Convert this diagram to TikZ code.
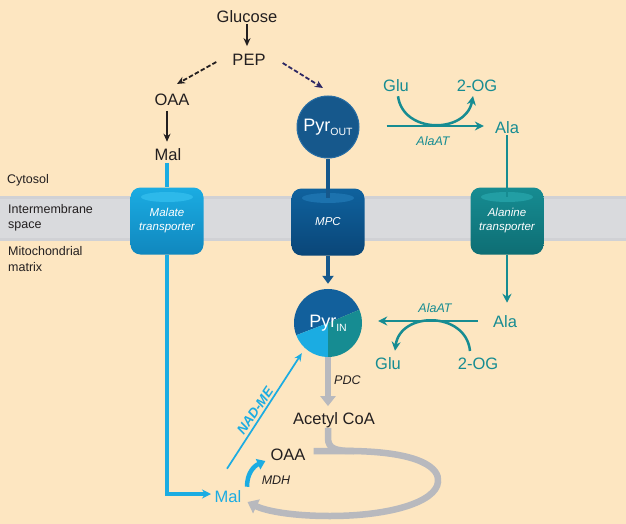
\documentclass[tikz,border=0pt]{standalone}
\usepackage{fontspec}
\setmainfont{Liberation Sans}
\usetikzlibrary{arrows.meta,calc}
\definecolor{bg}{RGB}{253,230,193}
\definecolor{memb}{RGB}{217,218,221}
\definecolor{membd}{RGB}{208,209,213}
\definecolor{cyanc}{RGB}{27,172,226}
\definecolor{cyand}{RGB}{16,135,190}
\definecolor{cyanl}{RGB}{45,185,234}
\definecolor{tealc}{RGB}{22,140,146}
\definecolor{teald}{RGB}{14,110,116}
\definecolor{teall}{RGB}{34,158,164}
\definecolor{darkb}{RGB}{22,88,140}
\definecolor{darkbl}{RGB}{40,110,165}
\definecolor{mpcb}{RGB}{15,98,158}
\definecolor{mpcd}{RGB}{10,70,120}
\definecolor{mpcl}{RGB}{28,114,174}
\definecolor{pieb}{RGB}{18,96,156}
\definecolor{grayc}{RGB}{184,185,190}
\definecolor{navy}{RGB}{45,40,100}
\definecolor{txt}{RGB}{35,31,32}
\begin{document}
\begin{tikzpicture}[x=1pt,y=-1pt,
  lbl/.style={font=\fontsize{16.5}{18}\selectfont, inner sep=1pt},
  enz/.style={font=\itshape\fontsize{12.5}{14}\selectfont, inner sep=1pt},
  comp/.style={font=\fontsize{12.5}{15.5}\selectfont, align=left, anchor=west, inner sep=0pt, text=txt},
  transp/.style={minimum width=73pt, minimum height=67pt, rounded corners=10pt, text=white,
     font=\itshape\fontsize{11.5}{14}\selectfont, align=center, inner sep=0pt},
  blk/.style={draw=txt, line width=1.6pt, -{Stealth[length=8pt,width=7pt]}},
  dsh/.style={line width=1.8pt, dash pattern=on 4.5pt off 2.2pt, -{Stealth[length=8pt,width=7pt]}},
  tarr/.style={draw=tealc, line width=2.5pt, -{Stealth[length=9pt,width=9pt]}},
  carr/.style={draw=cyanc, line width=3.2pt, -{Stealth[length=9pt,width=9pt]}},
  garr/.style={draw=grayc, line width=6.5pt, -{Triangle[length=10pt,width=15pt]}}
]
\useasboundingbox (0,0) rectangle (626,524);
\fill[bg] (0,0) rectangle (626,524);
% membrane
\fill[memb] (0,196) rectangle (626,241);
\fill[membd] (0,196) rectangle (626,199);
\fill[membd] (0,238) rectangle (626,241);

% compartment labels
\node[comp] (cyto) at (7,180) {Cytosol};
\node[comp] (ims) at (8,218) {Intermembrane\\space};
\node[comp] (mat) at (8,259) {Mitochondrial\\matrix};

% cytosol metabolites
\node[lbl,text=txt] (glc) at (247,17) {Glucose};
\node[lbl,text=txt] (pep) at (249,60) {PEP};
\node[lbl,text=txt] (oaa1) at (172,100) {OAA};
\node[lbl,text=txt] (mal1) at (168,155) {Mal};

\draw[blk, shorten >=7pt] (glc.south) -- (glc.south |- pep.north);
\coordinate (oaab) at (167,107);
\draw[blk, shorten <=4pt, shorten >=6pt] (oaab) -- (oaab |- mal1.north);
\draw[dsh, draw=txt] ($(pep.west)+(-15,2)$) -- ($(oaa1.north)+(5,-9)$);
\draw[dsh, draw=navy] ($(pep.east)+(16,3)$) -- (323,88);

% Pyr out
\node[circle, fill=darkb, draw=darkbl, line width=1pt, minimum size=62pt, inner sep=0pt, text=white,
      font=\fontsize{18}{18}\selectfont] (pyrout) at (328,127)
      {Pyr\raisebox{-0.45ex}{\fontsize{10.5}{10}\selectfont OUT}};

% Glu / 2-OG / Ala upper
\node[lbl,text=tealc] (glu1) at (396,86) {Glu};
\node[lbl,text=tealc] (og1) at (477,86) {2-OG};
\node[lbl,text=tealc] (ala1) at (507,128) {Ala};
\node[enz,text=tealc] (alaat1) at (433,141) {AlaAT};
\draw[tarr] ($(pyrout.east)+(27,-1)$) -- ($(ala1.west)+(-10,-2)$);
\draw[tarr] ($(glu1.south)+(2,3)$) .. controls (403,134) and (466,134) .. ($(og1.south)+(-4,3)$);

% transporters
\node[transp, top color=cyanc, middle color=cyanc, bottom color=cyand] (malt) at (167,221) {Malate\\transporter};
\node[transp, top color=mpcb, middle color=mpcb, bottom color=mpcd] (mpc) at (328,222) {MPC};
\node[transp, top color=tealc, middle color=tealc, bottom color=teald] (alat) at (507,221) {Alanine\\transporter};
\fill[cyanl] (167,197) ellipse (26pt and 5pt);
\fill[mpcl] (328,198) ellipse (26pt and 5pt);
\fill[teall] (507,197) ellipse (26pt and 5pt);

% lines into transporters
\coordinate (malb) at (167,163);
\draw[cyanc, line width=3.2pt] (malb) -- (malt.north);
\draw[darkb, line width=4.5pt] (pyrout) -- ($(mpc.north)+(0,10)$);
\draw[tealc, line width=2.8pt] (ala1.south) -- ($(alat.north)+(0,10)$);

% matrix
\node[lbl,text=txt] (acoa) at (334,420) {Acetyl CoA};
\node[lbl,text=txt] (oaa2) at (288,455) {OAA};
\node[lbl,text=cyanc] (mal2) at (228,497) {Mal};
\node[lbl,text=tealc] (ala2) at (505,322) {Ala};
\node[lbl,text=tealc] (glu2) at (388,364) {Glu};
\node[lbl,text=tealc] (og2) at (478,364) {2-OG};
\node[enz,text=tealc] (alaat2) at (435,308) {AlaAT};
\node[enz,text=txt,anchor=west] (pdc) at (333,380) {PDC};
\node[enz,text=txt] (mdh) at (276,480) {MDH};

% Pyr in (pie)
\coordinate (pyrc) at (328,323);
\begin{scope}[shift={(pyrc)}, y=1pt]
  \fill[pieb] (0,0) -- (23:34) arc[start angle=23, end angle=201, radius=34] -- cycle;
  \fill[cyanc] (0,0) -- (201:34) arc[start angle=201, end angle=270, radius=34] -- cycle;
  \fill[tealc] (0,0) -- (270:34) arc[start angle=270, end angle=383, radius=34] -- cycle;
\end{scope}
\node[circle, minimum size=68pt, inner sep=0pt, text=white, font=\fontsize{18}{18}\selectfont]
   (pyrin) at (pyrc) {Pyr\raisebox{-0.45ex}{\fontsize{10.5}{10}\selectfont IN}};

\draw[darkb, line width=4pt, -{Triangle[length=8pt,width=11pt]}, shorten >=5pt] (mpc.south) -- (pyrin);
\draw[tealc, line width=2.8pt, -{Stealth[length=9pt,width=9pt]}, shorten >=12pt] (alat.south) -- (alat.south |- ala2.north);

% lower AlaAT
\draw[tarr] ($(ala2.west)+(-14,-1)$) -- ($(pyrin.east)+(16,-2)$);
\draw[tarr] ($(og2.north)+(-8,-6)$) .. controls (466,311) and (400,311) .. ($(glu2.north)+(7,-6)$);

% malate path
\coordinate (mcorner) at (167,494);
\draw[carr, shorten >=17pt] (malt.south) -- (mcorner) -- (mcorner -| mal2.center);

% NAD-ME
\draw[cyanc, line width=1.7pt, -{Stealth[length=8pt,width=7pt]}] ($(mal2.north)+(-1,-21)$) -- ($(pyrin.south west)+(-2,6)$);
\node[text=cyanc, font=\bfseries\itshape\fontsize{13.5}{14}\selectfont, rotate=56, inner sep=0pt] (nadme) at (255,411) {NAD-ME};

% MDH
\draw[cyanc, line width=4.5pt, -{Triangle[length=8pt,width=11pt]}] ($(mal2.north)+(19,-3)$) .. controls (247,473) and (254,466) .. ($(oaa2.west)+(-4,6)$);

% PDC
\draw[garr] (pyrin.south) -- ($(pyrin.south |- acoa.north)+(0,-5)$);

% TCA loop
\draw[grayc, line width=6.5pt] ($(acoa.south -| pyrin.south)+(0,-1)$) -- (328,438) .. controls (328,449) and (336,451) .. (354,451);
\draw[garr] ($(oaa2.east)+(7,-4)$) -- (352,451) .. controls (420,452) and (440,468) .. (438,482)
   .. controls (436,502) and (390,516) .. (330,516) .. controls (292,516) and (266,511) .. ($(mal2.east)+(5,5)$);
\end{tikzpicture}
\end{document}
